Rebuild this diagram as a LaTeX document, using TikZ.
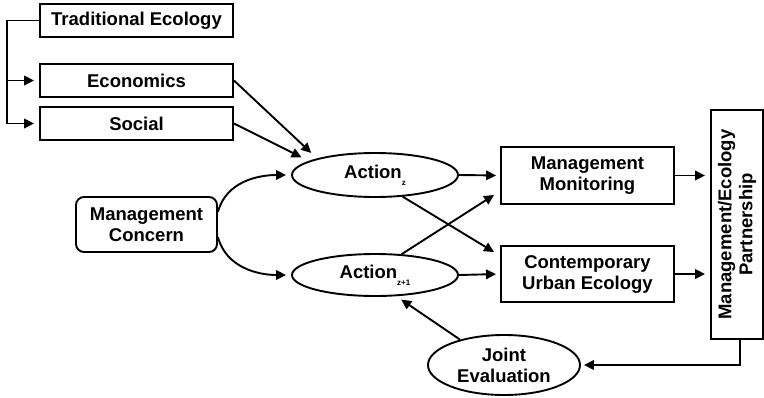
\documentclass[tikz,border=0pt]{standalone}
\usepackage{fontspec}
\setmainfont{Liberation Sans}
\usetikzlibrary{arrows.meta,shapes.geometric}
% small lowered index after a word
\newcommand\lowsub[1]{\raisebox{-7pt}{\fontsize{8}{8}\selectfont\bfseries #1}}

\begin{document}
\begin{tikzpicture}[x=1pt,y=-1pt,
  every node/.style={font=\fontsize{18.5}{21}\selectfont\bfseries, align=center, inner sep=0pt},
  rectbox/.style={draw, rectangle, line width=1.9pt},
  oval/.style={draw, ellipse, line width=1.9pt},
  arr/.style={-{Triangle[length=10pt,width=9.5pt]}, line width=1.9pt, shorten >=4pt}]

\useasboundingbox (0,0) rectangle (764,397);

% left column of influences
\node[rectbox, minimum width=193pt, minimum height=33pt] (trad) at (136.5,20.5) {Traditional Ecology};
\node[rectbox, minimum width=193pt, minimum height=33pt] (econ) at (136.5,80.5) {Economics};
\node[rectbox, minimum width=193pt, minimum height=33pt] (soc)  at (136.5,123.5) {Social};

\node[rectbox, rounded corners=8pt, minimum width=141pt, minimum height=55pt] (mc) at (146.5,224.5) {Management\\Concern};

% actions
\node[oval, minimum width=166pt, minimum height=44pt] (az)  at (375,175) {Action\lowsub{z}};
\node[oval, minimum width=166pt, minimum height=42pt] (az1) at (375,275) {Action\lowsub{z+1}};

% outcomes
\node[rectbox, minimum width=173pt, minimum height=57pt] (mm)  at (587.5,175.5) {Management\\Monitoring};
\node[rectbox, minimum width=173pt, minimum height=56pt] (cue) at (587.5,274) {Contemporary\\Urban Ecology};

\node[rectbox, minimum width=52pt, minimum height=229pt] (part) at (737,224.5) {};
\node[rotate=90] (parttext) at (part) {Management/Ecology\\Partnership};

\node[oval, minimum width=152pt, minimum height=60pt] (joint) at (504,365) {Joint\\Evaluation};

% bracket from Traditional Ecology
\coordinate (bus) at (7,20.5);
\draw[arr, shorten >=5pt] (trad.west) -- (bus) |- (soc.west);
\draw[arr, shorten >=5pt] (bus |- econ.west) -- (econ.west);

% into Action_z
\draw[arr, shorten >=8pt] (econ.east) -- (az.164);
\draw[arr, shorten >=8pt] (soc.east) -- (az.168);

% management concern branches
\draw[arr, shorten >=5pt] (mc.10) to[out=75,in=180] (az.west);
\draw[arr, shorten >=5pt] (mc.-10) to[out=-75,in=180] (az1.west);

% actions to outcomes
\draw[arr] (az.east) -- (mm.west);
\draw[arr] (az1.east) -- (cue.west);
\draw[arr, shorten >=0pt] (az.-38) -- ([xshift=-6pt,yshift=-7pt]cue.north west);
\draw[arr, shorten >=0pt] (az1.38) -- ([xshift=-6pt,yshift=10pt]mm.south west);

% outcomes to partnership
\draw[arr, shorten >=5pt] (mm.east) -- (mm.east -| part.west);
\draw[arr, shorten >=5pt] (cue.east) -- (cue.east -| part.west);

% feedback loop
\draw[arr, shorten >=3pt] ([xshift=3pt]part.south) |- (joint.east);
\draw[arr, shorten >=6pt] (joint.150) -- (az1.-45);

\end{tikzpicture}
\end{document}
